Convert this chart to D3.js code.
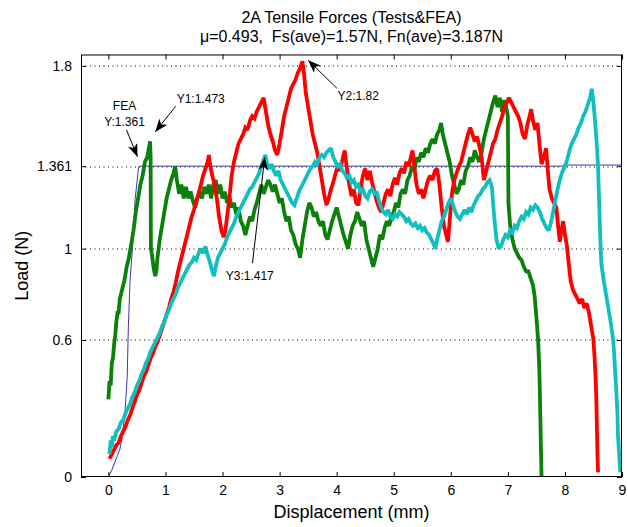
<!DOCTYPE html>
<html>
<head>
<meta charset="utf-8">
<script src="https://cdn.jsdelivr.net/npm/d3@7"></script>
<style>
  body { margin: 0; background: #fff; }
  svg { font-family: "Liberation Sans", Arial, sans-serif; display: block; }
</style>
</head>
<body>
<div id="chart"></div>
<script>
// --- data ---
const titleLines = ["2A Tensile Forces (Tests&FEA)", "\u03bc=0.493,  Fs(ave)=1.57N, Fn(ave)=3.187N"];
const xTicks = [0, 1, 2, 3, 4, 5, 6, 7, 8, 9];
const yTicks = [0, 0.6, 1, 1.361, 1.8];

// test 1 (green)
const test1 = [[0.00,0.34],[0.02,0.42],[0.04,0.40],[0.06,0.50],[0.08,0.52],[0.10,0.58],[0.12,0.62],[0.14,0.68],[0.16,0.72],[0.18,0.72],[0.20,0.78],[0.24,0.82],[0.28,0.86],[0.32,0.92],[0.36,0.96],[0.40,1.02],[0.44,1.08],[0.48,1.16],[0.52,1.22],[0.56,1.28],[0.60,1.32],[0.64,1.38],[0.68,1.40],[0.71,1.44],[0.73,1.47],[0.74,1.40],[0.745,1.00],[0.76,0.98],[0.79,0.92],[0.82,0.88],[0.84,0.90],[0.86,0.96],[0.90,1.04],[0.94,1.10],[0.98,1.16],[1.02,1.22],[1.06,1.26],[1.10,1.30],[1.14,1.33],[1.17,1.36],[1.20,1.30],[1.24,1.24],[1.28,1.28],[1.32,1.22],[1.36,1.27],[1.40,1.22],[1.44,1.25],[1.48,1.21],[1.52,1.18],[1.56,1.22],[1.60,1.25],[1.64,1.22],[1.68,1.27],[1.72,1.24],[1.76,1.28],[1.80,1.22],[1.84,1.28],[1.88,1.30],[1.92,1.24],[1.96,1.28],[2.00,1.22],[2.04,1.25],[2.08,1.20],[2.12,1.23],[2.16,1.18],[2.20,1.20],[2.24,1.15],[2.28,1.18],[2.32,1.12],[2.36,1.10],[2.40,1.06],[2.44,1.10],[2.48,1.14],[2.52,1.12],[2.56,1.17],[2.60,1.20],[2.64,1.24],[2.68,1.28],[2.72,1.24],[2.76,1.27],[2.80,1.30],[2.84,1.28],[2.88,1.25],[2.92,1.28],[2.96,1.24],[3.00,1.20],[3.04,1.22],[3.08,1.16],[3.12,1.12],[3.16,1.14],[3.20,1.08],[3.24,1.06],[3.28,1.02],[3.32,1.00],[3.36,0.96],[3.40,1.04],[3.44,1.10],[3.48,1.16],[3.52,1.20],[3.56,1.18],[3.60,1.14],[3.64,1.16],[3.68,1.12],[3.72,1.10],[3.76,1.12],[3.80,1.06],[3.84,1.04],[3.88,1.08],[3.92,1.12],[3.96,1.15],[4.00,1.18],[4.04,1.14],[4.08,1.10],[4.12,1.06],[4.16,1.03],[4.20,1.00],[4.24,1.06],[4.28,1.10],[4.32,1.12],[4.36,1.16],[4.40,1.13],[4.44,1.10],[4.48,1.12],[4.52,1.04],[4.56,1.00],[4.60,0.96],[4.64,0.92],[4.68,0.96],[4.72,1.00],[4.76,1.06],[4.80,1.04],[4.84,1.09],[4.88,1.12],[4.92,1.10],[4.96,1.14],[5.00,1.16],[5.04,1.20],[5.08,1.18],[5.12,1.24],[5.16,1.26],[5.20,1.24],[5.24,1.30],[5.28,1.32],[5.32,1.36],[5.36,1.34],[5.40,1.40],[5.44,1.38],[5.48,1.42],[5.52,1.40],[5.56,1.44],[5.60,1.42],[5.64,1.46],[5.68,1.48],[5.72,1.46],[5.76,1.50],[5.80,1.52],[5.83,1.55],[5.86,1.50],[5.90,1.46],[5.94,1.42],[5.98,1.38],[6.02,1.32],[6.06,1.28],[6.10,1.24],[6.14,1.26],[6.18,1.30],[6.22,1.28],[6.26,1.34],[6.30,1.36],[6.34,1.40],[6.38,1.38],[6.42,1.43],[6.46,1.40],[6.50,1.38],[6.54,1.42],[6.58,1.48],[6.62,1.52],[6.66,1.56],[6.70,1.60],[6.74,1.64],[6.78,1.67],[6.82,1.62],[6.86,1.66],[6.90,1.60],[6.94,1.65],[6.97,1.62],[7.00,1.58],[7.01,1.20],[7.04,1.10],[7.08,1.04],[7.12,1.00],[7.16,0.98],[7.20,0.96],[7.24,0.95],[7.28,0.92],[7.32,0.90],[7.36,0.90],[7.40,0.87],[7.44,0.84],[7.47,0.79],[7.50,0.70],[7.53,0.60],[7.55,0.48],[7.56,0.38],[7.57,0.25],[7.58,0.12],[7.59,0.00]];

// test 2 (red)
const test2 = [[0.02,0.08],[0.06,0.10],[0.10,0.12],[0.14,0.14],[0.18,0.15],[0.22,0.18],[0.26,0.20],[0.30,0.22],[0.34,0.25],[0.38,0.27],[0.42,0.30],[0.46,0.33],[0.50,0.36],[0.54,0.38],[0.58,0.41],[0.62,0.44],[0.66,0.46],[0.70,0.49],[0.74,0.52],[0.78,0.54],[0.82,0.57],[0.86,0.59],[0.90,0.62],[0.94,0.65],[0.98,0.68],[1.02,0.71],[1.06,0.74],[1.10,0.78],[1.14,0.81],[1.18,0.85],[1.22,0.90],[1.26,0.94],[1.30,0.98],[1.34,1.02],[1.38,1.06],[1.42,1.10],[1.46,1.14],[1.50,1.17],[1.54,1.21],[1.58,1.24],[1.62,1.28],[1.66,1.32],[1.70,1.35],[1.74,1.38],[1.76,1.41],[1.78,1.37],[1.82,1.32],[1.86,1.28],[1.90,1.22],[1.94,1.14],[1.98,1.08],[2.02,1.05],[2.05,1.08],[2.08,1.14],[2.12,1.22],[2.16,1.32],[2.20,1.38],[2.24,1.42],[2.28,1.46],[2.32,1.48],[2.36,1.50],[2.40,1.53],[2.44,1.52],[2.48,1.56],[2.52,1.58],[2.56,1.57],[2.60,1.60],[2.64,1.62],[2.68,1.64],[2.72,1.66],[2.76,1.60],[2.80,1.54],[2.84,1.50],[2.88,1.47],[2.92,1.43],[2.96,1.41],[3.00,1.46],[3.04,1.52],[3.08,1.58],[3.12,1.62],[3.16,1.66],[3.20,1.70],[3.24,1.72],[3.28,1.74],[3.32,1.77],[3.36,1.79],[3.40,1.82],[3.43,1.76],[3.46,1.68],[3.50,1.62],[3.54,1.56],[3.58,1.50],[3.62,1.46],[3.66,1.42],[3.70,1.36],[3.74,1.30],[3.78,1.24],[3.82,1.19],[3.86,1.22],[3.90,1.26],[3.94,1.29],[3.98,1.33],[4.02,1.36],[4.06,1.34],[4.10,1.39],[4.14,1.43],[4.18,1.35],[4.22,1.28],[4.26,1.23],[4.30,1.26],[4.34,1.20],[4.38,1.19],[4.42,1.26],[4.46,1.32],[4.50,1.35],[4.54,1.30],[4.58,1.34],[4.62,1.29],[4.66,1.25],[4.70,1.21],[4.74,1.18],[4.78,1.16],[4.82,1.20],[4.86,1.24],[4.90,1.26],[4.94,1.23],[4.98,1.28],[5.02,1.31],[5.06,1.28],[5.10,1.33],[5.14,1.35],[5.18,1.33],[5.22,1.38],[5.26,1.36],[5.30,1.40],[5.33,1.43],[5.36,1.36],[5.40,1.28],[5.44,1.24],[5.48,1.26],[5.52,1.22],[5.56,1.26],[5.60,1.30],[5.64,1.32],[5.68,1.30],[5.72,1.34],[5.76,1.35],[5.80,1.28],[5.84,1.18],[5.88,1.10],[5.92,1.06],[5.95,1.03],[5.98,1.12],[6.02,1.24],[6.06,1.30],[6.10,1.33],[6.14,1.36],[6.18,1.38],[6.22,1.42],[6.26,1.46],[6.30,1.50],[6.34,1.53],[6.38,1.50],[6.42,1.47],[6.46,1.49],[6.50,1.45],[6.54,1.40],[6.58,1.30],[6.62,1.34],[6.66,1.38],[6.70,1.42],[6.74,1.46],[6.78,1.48],[6.82,1.52],[6.86,1.55],[6.90,1.58],[6.94,1.62],[6.98,1.64],[7.02,1.66],[7.06,1.64],[7.10,1.62],[7.14,1.60],[7.18,1.58],[7.22,1.55],[7.26,1.50],[7.30,1.48],[7.34,1.54],[7.38,1.58],[7.41,1.61],[7.44,1.56],[7.48,1.52],[7.52,1.55],[7.56,1.44],[7.59,1.37],[7.63,1.40],[7.67,1.44],[7.70,1.34],[7.73,1.26],[7.77,1.22],[7.81,1.20],[7.85,1.18],[7.88,1.10],[7.91,1.03],[7.94,1.08],[7.97,1.12],[8.00,1.06],[8.03,1.02],[8.06,0.95],[8.10,0.86],[8.14,0.82],[8.18,0.80],[8.22,0.78],[8.26,0.76],[8.30,0.78],[8.34,0.74],[8.38,0.76],[8.42,0.72],[8.46,0.66],[8.50,0.60],[8.52,0.52],[8.54,0.42],[8.55,0.34],[8.56,0.22],[8.57,0.10],[8.58,0.02]];

// test 3 (cyan)
const test3 = [[0.02,0.10],[0.04,0.16],[0.06,0.13],[0.08,0.18],[0.10,0.16],[0.14,0.20],[0.18,0.21],[0.22,0.24],[0.26,0.25],[0.30,0.28],[0.34,0.30],[0.38,0.32],[0.42,0.35],[0.46,0.37],[0.50,0.40],[0.54,0.42],[0.58,0.45],[0.62,0.47],[0.66,0.50],[0.70,0.52],[0.74,0.55],[0.78,0.57],[0.82,0.59],[0.86,0.61],[0.90,0.63],[0.94,0.66],[0.98,0.68],[1.02,0.71],[1.06,0.73],[1.10,0.76],[1.14,0.78],[1.18,0.80],[1.22,0.83],[1.26,0.85],[1.30,0.87],[1.34,0.89],[1.38,0.91],[1.42,0.93],[1.46,0.94],[1.50,0.96],[1.54,0.95],[1.58,0.98],[1.62,1.00],[1.66,0.98],[1.70,1.01],[1.74,0.97],[1.78,0.94],[1.82,0.90],[1.85,0.88],[1.88,0.92],[1.92,0.96],[1.96,0.98],[2.00,1.00],[2.04,1.02],[2.08,1.05],[2.12,1.07],[2.16,1.09],[2.20,1.11],[2.24,1.14],[2.28,1.16],[2.32,1.18],[2.36,1.20],[2.40,1.22],[2.44,1.24],[2.48,1.26],[2.52,1.27],[2.56,1.29],[2.60,1.31],[2.64,1.33],[2.68,1.36],[2.72,1.39],[2.75,1.41],[2.78,1.37],[2.82,1.35],[2.86,1.37],[2.90,1.34],[2.94,1.32],[2.98,1.34],[3.02,1.30],[3.06,1.28],[3.10,1.26],[3.14,1.24],[3.18,1.22],[3.22,1.20],[3.26,1.19],[3.30,1.22],[3.34,1.25],[3.38,1.27],[3.42,1.29],[3.46,1.31],[3.50,1.33],[3.54,1.35],[3.58,1.36],[3.62,1.38],[3.66,1.37],[3.70,1.40],[3.74,1.41],[3.78,1.40],[3.82,1.42],[3.86,1.43],[3.90,1.44],[3.94,1.40],[3.98,1.38],[4.02,1.36],[4.06,1.37],[4.10,1.34],[4.14,1.33],[4.18,1.31],[4.22,1.32],[4.26,1.29],[4.30,1.30],[4.34,1.27],[4.38,1.28],[4.42,1.25],[4.46,1.26],[4.50,1.23],[4.54,1.22],[4.58,1.25],[4.62,1.26],[4.66,1.24],[4.70,1.25],[4.74,1.21],[4.78,1.18],[4.82,1.16],[4.86,1.15],[4.90,1.17],[4.94,1.14],[4.98,1.13],[5.02,1.15],[5.06,1.14],[5.10,1.16],[5.14,1.15],[5.18,1.14],[5.22,1.12],[5.26,1.13],[5.30,1.11],[5.34,1.10],[5.38,1.11],[5.42,1.09],[5.46,1.10],[5.50,1.08],[5.54,1.09],[5.58,1.07],[5.62,1.06],[5.66,1.04],[5.70,1.02],[5.73,1.00],[5.76,1.04],[5.80,1.08],[5.84,1.12],[5.88,1.14],[5.92,1.17],[5.96,1.20],[6.00,1.22],[6.04,1.19],[6.08,1.16],[6.12,1.14],[6.16,1.13],[6.20,1.15],[6.24,1.17],[6.28,1.15],[6.32,1.18],[6.36,1.16],[6.40,1.19],[6.44,1.21],[6.48,1.23],[6.52,1.24],[6.56,1.26],[6.60,1.27],[6.64,1.29],[6.68,1.30],[6.72,1.27],[6.76,1.14],[6.80,1.04],[6.84,1.00],[6.88,1.01],[6.92,1.04],[6.96,1.06],[7.00,1.05],[7.04,1.08],[7.08,1.07],[7.12,1.10],[7.16,1.09],[7.20,1.12],[7.24,1.14],[7.28,1.13],[7.32,1.16],[7.36,1.15],[7.40,1.18],[7.44,1.17],[7.48,1.19],[7.52,1.18],[7.56,1.16],[7.60,1.13],[7.64,1.11],[7.68,1.09],[7.72,1.08],[7.76,1.12],[7.80,1.17],[7.84,1.22],[7.88,1.27],[7.92,1.31],[7.96,1.34],[8.00,1.36],[8.04,1.39],[8.08,1.43],[8.12,1.46],[8.16,1.48],[8.20,1.50],[8.24,1.53],[8.28,1.55],[8.32,1.58],[8.36,1.60],[8.40,1.63],[8.44,1.66],[8.47,1.70],[8.50,1.64],[8.53,1.55],[8.56,1.45],[8.58,1.36],[8.60,1.20],[8.62,1.04],[8.64,0.93],[8.68,0.86],[8.72,0.80],[8.76,0.74],[8.80,0.68],[8.84,0.61],[8.86,0.55],[8.88,0.46],[8.90,0.38],[8.92,0.28],[8.93,0.18],[8.95,0.10],[8.97,0.02]];

// FEA (blue)
const fea = [[0.00,0.00],[0.06,0.03],[0.12,0.07],[0.20,0.12],[0.24,0.17],[0.29,0.28],[0.33,0.44],[0.35,0.66],[0.38,0.86],[0.43,1.03],[0.47,1.22],[0.53,1.358],[0.56,1.361],[7.96,1.361],[7.97,1.366],[9.00,1.366]];

const series = [
  { name: "FEA", data: fea, color: "#3838b0", width: 1 },
  { name: "Y1", data: test1, color: "#0b800b", width: 3.8 },
  { name: "Y2", data: test2, color: "#ff0000", width: 3.8 },
  { name: "Y3", data: test3, color: "#12bfbf", width: 3.8 }
];

// arrow tip in data units, tail and text offsets in px from the tip
const notes = [
  { lines: ["FEA", "Y:1.361"], tip: [0.51, 1.402], tail: [-11, -27], text: [-13, -47], anchor: "middle" },
  { lines: ["Y1:1.473"], tip: [0.82, 1.511], tail: [20.5, -25.7], text: [21.5, -29], anchor: "start" },
  { lines: ["Y2:1.82"], tip: [3.50, 1.825], tail: [28.7, 28], text: [29.4, 40], anchor: "start" },
  { lines: ["Y3:1.417"], tip: [2.74, 1.40], tail: [-12.3, 106], text: [-39, 123], anchor: "start" }
];

const width = 628, height = 527;
const margin = { top: 54.5, right: 6, bottom: 50, left: 81 };
const plotW = width - margin.left - margin.right;
const plotH = height - margin.top - margin.bottom;

const svg = d3.select("#chart").append("svg")
    .attr("width", width)
    .attr("height", height);

const x = d3.scaleLinear().domain([-0.48, 9]).range([0, plotW]);
const y = d3.scaleLinear().domain([0, 1.85]).range([plotH, 0]);

const g = svg.append("g")
    .attr("transform", `translate(${margin.left},${margin.top})`);

g.append("defs").append("clipPath").attr("id", "plot-clip")
    .append("rect").attr("width", plotW).attr("height", plotH);

// --- dotted grid ---
g.append("g")
    .selectAll("line")
    .data(yTicks.filter(d => d > 0))
    .join("line")
    .attr("x1", 0)
    .attr("x2", plotW)
    .attr("y1", d => Math.round(y(d)) + 0.5)
    .attr("y2", d => Math.round(y(d)) + 0.5)
    .attr("stroke", "#000")
    .attr("stroke-dasharray", "1,3.5");

// --- curves ---
const line = d3.line().x(d => x(d[0])).y(d => y(d[1]));
g.append("g")
    .attr("clip-path", "url(#plot-clip)")
    .selectAll("path")
    .data(series)
    .join("path")
    .attr("d", d => line(d.data))
    .attr("fill", "none")
    .attr("stroke", d => d.color)
    .attr("stroke-width", d => d.width)
    .attr("stroke-linejoin", "miter")
    .attr("stroke-miterlimit", 2);

// --- axes (ticks inside, mirrored) ---
const fmt = d => String(d);
const styleAxis = sel => {
    sel.select(".domain").remove();
    sel.selectAll("line").attr("stroke", "#000");
    sel.selectAll("text").attr("font-size", "14px").attr("fill", "#000");
};

g.append("g")
    .attr("transform", `translate(0,${plotH})`)
    .call(d3.axisBottom(x).tickValues(xTicks).tickFormat(fmt).tickSizeInner(-5).tickSizeOuter(0).tickPadding(8))
    .call(styleAxis);
g.append("g")
    .call(d3.axisTop(x).tickValues(xTicks).tickFormat("").tickSizeInner(-5).tickSizeOuter(0))
    .call(styleAxis);
g.append("g")
    .call(d3.axisLeft(y).tickValues(yTicks).tickFormat(fmt).tickSizeInner(-5).tickSizeOuter(0).tickPadding(9))
    .call(styleAxis);
g.append("g")
    .attr("transform", `translate(${plotW},0)`)
    .call(d3.axisRight(y).tickValues(yTicks).tickFormat("").tickSizeInner(-5).tickSizeOuter(0))
    .call(styleAxis);

g.append("rect")
    .attr("x", 0.5).attr("y", 0.5)
    .attr("width", plotW - 1).attr("height", plotH - 1)
    .attr("fill", "none")
    .attr("stroke", "#000");

// --- arrows + labels ---
svg.append("defs").append("marker")
    .attr("id", "head")
    .attr("viewBox", "0 -5 13 10")
    .attr("refX", 13).attr("refY", 0)
    .attr("markerWidth", 13).attr("markerHeight", 10)
    .attr("markerUnits", "userSpaceOnUse")
    .attr("orient", "auto")
    .append("path")
    .attr("d", "M0,-5L13,0L0,5L3.5,0Z")
    .attr("fill", "#000");

notes.forEach(n => {
    const tx = x(n.tip[0]), ty = y(n.tip[1]);
    g.append("line")
        .attr("x1", tx + n.tail[0]).attr("y1", ty + n.tail[1])
        .attr("x2", tx).attr("y2", ty)
        .attr("stroke", "#000")
        .attr("stroke-width", 1)
        .attr("marker-end", "url(#head)");
    const t = g.append("text")
        .attr("font-size", "12px")
        .attr("text-anchor", n.anchor)
        .attr("fill", "#000");
    n.lines.forEach((s, i) => {
        t.append("tspan")
            .attr("x", tx + n.text[0])
            .attr("y", ty + n.text[1] + i * 16)
            .text(s);
    });
});

// --- titles ---
svg.append("g")
    .selectAll("text")
    .data(titleLines)
    .join("text")
    .attr("x", margin.left + plotW / 2)
    .attr("y", (d, i) => 23 + i * 19)
    .attr("text-anchor", "middle")
    .attr("font-size", "16px")
    .style("white-space", "pre")
    .text(d => d);

svg.append("text")
    .attr("x", margin.left + plotW / 2)
    .attr("y", 518)
    .attr("text-anchor", "middle")
    .attr("font-size", "18px")
    .text("Displacement (mm)");

svg.append("text")
    .attr("transform", `translate(28,${margin.top + plotH / 2}) rotate(-90)`)
    .attr("text-anchor", "middle")
    .attr("font-size", "18px")
    .text("Load (N)");
</script>
</body>
</html>
